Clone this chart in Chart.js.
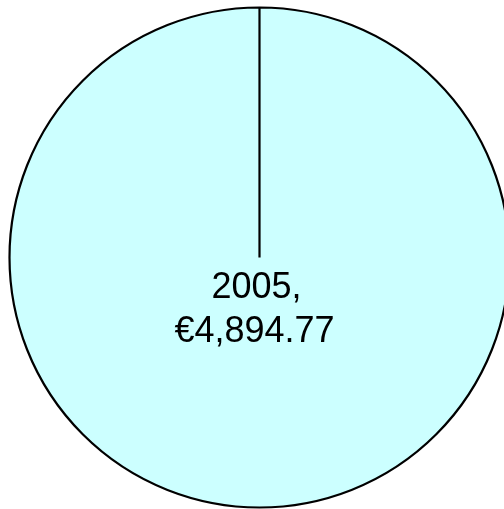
<!DOCTYPE html>
<html>
<head>
<meta charset="utf-8">
<script src="https://cdn.jsdelivr.net/npm/chart.js@4/dist/chart.umd.min.js"></script>
<style>
  html, body { margin: 0; padding: 0; background: #fff; overflow: hidden; }
  #wrap { position: absolute; left: 0; top: 0; width: 519px; height: 515px; }
</style>
</head>
<body>
<div id="wrap"><canvas id="pie"></canvas></div>
<script>
const years = ['2005'];
const amounts = [4894.77];

// text of the slice label: "2005," then the amount in euros
function sliceLines(i) {
  const money = '€' + amounts[i].toLocaleString('en-US', { minimumFractionDigits: 2, maximumFractionDigits: 2 });
  return [years[i] + ',', money];
}

const sliceLabels = {
  id: 'sliceLabels',
  afterDatasetsDraw(chart) {
    const ctx = chart.ctx;
    const meta = chart.getDatasetMeta(0);
    meta.data.forEach((arc, i) => {
      const lines = sliceLines(i);
      ctx.save();
      ctx.fillStyle = '#000';
      ctx.font = '36px "Liberation Sans", Arial, sans-serif';
      ctx.textAlign = 'center';
      ctx.textBaseline = 'alphabetic';
      ctx.fillText(lines[0], arc.x - 3, arc.y + 40);
      ctx.fillText(lines[1], arc.x - 5, arc.y + 84);
      ctx.restore();
    });
  }
};

new Chart(document.getElementById('pie'), {
  type: 'pie',
  data: {
    labels: years,
    datasets: [{
      data: amounts,
      backgroundColor: '#CCFFFF',
      borderColor: '#000',
      borderWidth: 2.2,
      radius: 250
    }]
  },
  options: {
    responsive: true,
    maintainAspectRatio: false,
    animation: false,
    layout: { padding: 0 },
    plugins: {
      legend: { display: false },
      tooltip: { enabled: false }
    }
  },
  plugins: [sliceLabels]
});
</script>
</body>
</html>
